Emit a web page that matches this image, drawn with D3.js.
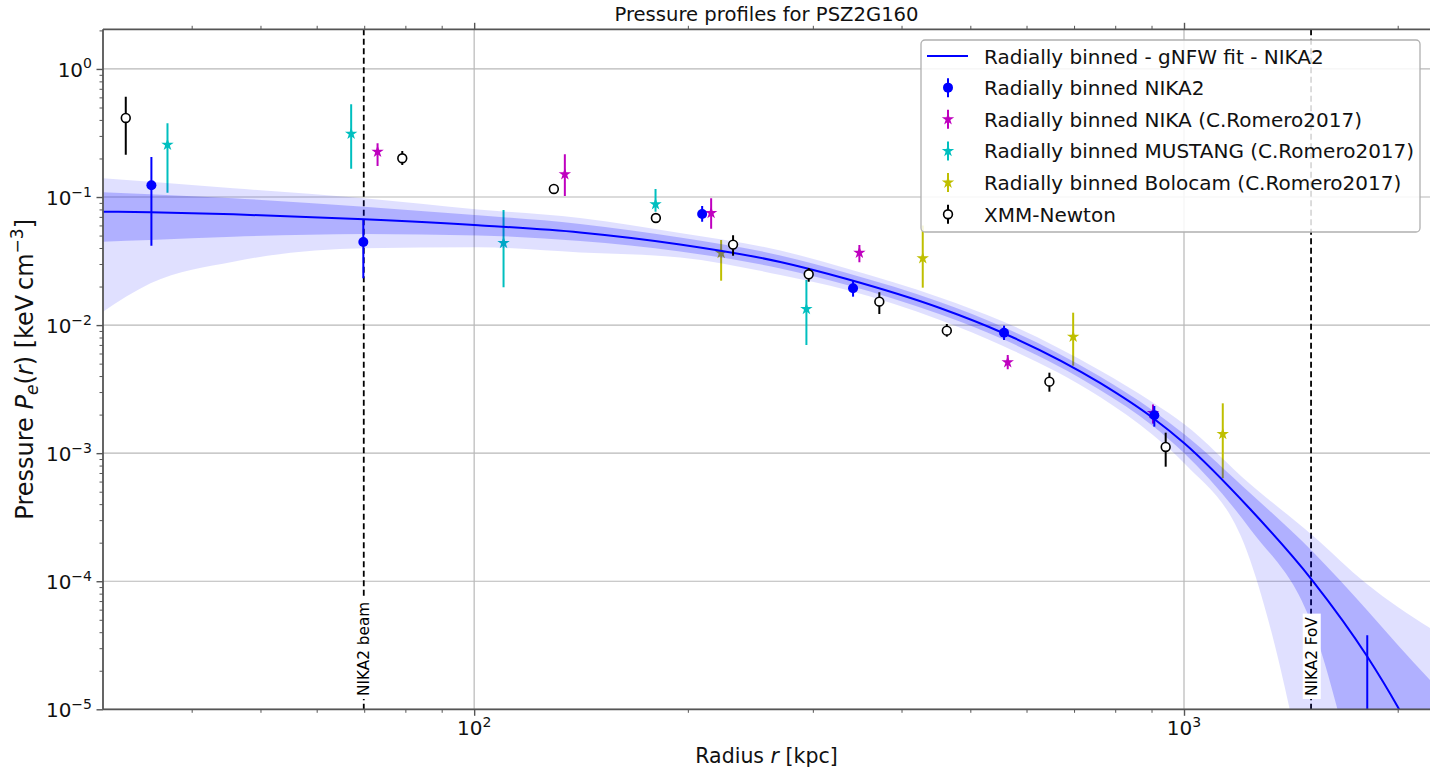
<!DOCTYPE html>
<html><head><meta charset="utf-8">
<script src="https://cdn.jsdelivr.net/npm/d3@7"></script>
<style>
body{margin:0;background:#fff;}
svg{display:block;font-family:"DejaVu Sans",sans-serif;}
</style></head><body>
<svg id="c" width="1430" height="769"></svg>
<script>
// ---------------- data ----------------
const title = "Pressure profiles for PSZ2G160";
const legendLabels = [
  "Radially binned - gNFW fit - NIKA2",
  "Radially binned NIKA2",
  "Radially binned NIKA (C.Romero2017)",
  "Radially binned MUSTANG (C.Romero2017)",
  "Radially binned Bolocam (C.Romero2017)",
  "XMM-Newton"
];
const xTickValues = [100, 1000];
const xTickExps = ["2", "3"];
const yTickValues = [1, 0.1, 0.01, 0.001, 0.0001, 0.00001];
const yTickExps = ["0", "\u22121", "\u22122", "\u22123", "\u22124", "\u22125"];

// gNFW fit and confidence bands
const fitR    = [30, 35, 45.8, 70, 101.3, 141, 195, 270, 335, 453, 556, 761.5, 904, 1000, 1239, 1515, 1810, 2001, 2221];
const fitP    = [0.0768, 0.0760, 0.0733, 0.0670, 0.0602, 0.0529, 0.04262, 0.03111, 0.02291, 0.01360, 0.00868, 0.003532, 0.001882, 0.001201, 3.665e-4, 1.022e-4, 2.608e-5, 1.042e-5, 3.48e-6];
const band1Hi = [0.1089, 0.1051, 0.0978, 0.0841, 0.0720, 0.0616, 0.0483, 0.0350, 0.02553, 0.01515, 0.00967, 0.003970, 0.002154, 0.001412, 4.887e-4, 1.722e-4, 5.963e-5, 3.177e-5, 1.693e-5];
const band1Lo = [0.0448, 0.0462, 0.0490, 0.0515, 0.0501, 0.0454, 0.03758, 0.02768, 0.02057, 0.01215, 0.00775, 0.003114, 0.001630, 0.001003, 2.558e-4, 4.553e-5, 1.23e-6, 1.3e-7, 1.3e-8];
const band2Hi = [0.1401, 0.1318, 0.1171, 0.0978, 0.0800, 0.0686, 0.0524, 0.03825, 0.02768, 0.01643, 0.01067, 0.004421, 0.002487, 0.001690, 5.743e-4, 2.297e-4, 9.515e-5, 6.293e-5, 4.313e-5];
const band2Lo = [0.01273, 0.0212, 0.03128, 0.0398, 0.0405, 0.03691, 0.03373, 0.02462, 0.01880, 0.01096, 0.00687, 0.002746, 0.001387, 8.38e-4, 1.465e-4, 1.27e-6, 1.5e-9, 1e-10, 1e-11];

// NIKA2 radially binned
const nika2R  = [35.1, 69.8, 209.5, 341.8, 557.8, 908.2, 1812];
const nika2P  = [0.1236, 0.0446, 0.0737, 0.01939, 0.00872, 0.001976, 5e-6];
const nika2Lo = [0.0417, 0.0232, 0.0642, 0.01667, 0.00765, 0.00161, 1e-7];
const nika2Hi = [0.2055, 0.0662, 0.0852, 0.0221, 0.0099, 0.002335, 3.78e-5];
// NIKA (Romero 2017)
const nikaR  = [73.1, 134.2, 215.7, 348.9, 564.5, 904.3];
const nikaP  = [0.226, 0.1506, 0.0751, 0.03677, 0.005125, 0.00206];
const nikaLo = [0.1748, 0.1019, 0.0566, 0.03094, 0.00452, 0.0017];
const nikaHi = [0.263, 0.2157, 0.0978, 0.0422, 0.00584, 0.0024];
// MUSTANG (Romero 2017)
const mustR  = [36.98, 67.1, 110.0, 180.1, 293.8];
const mustP  = [0.2563, 0.3125, 0.04379, 0.0878, 0.01336];
const mustLo = [0.1081, 0.1665, 0.01974, 0.0769, 0.00699];
const mustHi = [0.3767, 0.53, 0.0793, 0.1156, 0.0225];
// Bolocam (Romero 2017)
const boloR  = [222.8, 428.5, 698, 1134];
const boloP  = [0.03657, 0.03324, 0.00812, 0.001412];
const boloLo = [0.02222, 0.0196, 0.00482, 0.000637];
const boloHi = [0.0462, 0.06, 0.0125, 0.00245];
// XMM-Newton
const xmmR  = [32.3, 79.2, 129.5, 180.3, 231.6, 296.0, 372.2, 463.3, 646.2, 942.3];
const xmmP  = [0.4144, 0.2008, 0.1156, 0.0686, 0.0425, 0.02493, 0.01524, 0.00905, 0.003616, 0.001118];
const xmmLo = [0.2142, 0.178, 0.113, 0.066, 0.0348, 0.0218, 0.01221, 0.00812, 0.00302, 0.000784];
const xmmHi = [0.6076, 0.229, 0.118, 0.071, 0.0503, 0.0279, 0.01805, 0.0102, 0.00425, 0.001445];

// vertical markers
const beamR = 69.9, fovR = 1510;

// ---------------- layout ----------------
const L = 103, R = 1430, T = 29.3, B = 709.3;
const svg = d3.select("#c");
const x = d3.scaleLog().domain([30, 2221]).range([L, R]);
const y = d3.scaleLog().domain([1e-5, 2.04]).range([B, T]);

svg.append("defs").append("clipPath").attr("id", "clip")
  .append("rect").attr("x", L).attr("y", T).attr("width", R - L).attr("height", B - T);

// grid
const grid = svg.append("g").attr("stroke", "#b8b8b8").attr("stroke-width", 1.2);
xTickValues.forEach(v => grid.append("line").attr("x1", x(v)).attr("x2", x(v)).attr("y1", T).attr("y2", B));
yTickValues.forEach(v => grid.append("line").attr("x1", L).attr("x2", R).attr("y1", y(v)).attr("y2", y(v)));

const plot = svg.append("g").attr("clip-path", "url(#clip)");

// dashed vertical lines
[beamR, fovR].forEach(r => plot.append("line")
  .attr("x1", x(r)).attr("x2", x(r)).attr("y1", T).attr("y2", B)
  .attr("stroke", "#000").attr("stroke-width", 1.8).attr("stroke-dasharray", "6,3.5"));

const starSize = 48;
function errSeries(rs, ps, los, his, color, marker) {
  const g = plot.append("g");
  rs.forEach((r, i) => {
    g.append("line").attr("x1", x(r)).attr("x2", x(r))
      .attr("y1", y(los[i])).attr("y2", y(his[i]))
      .attr("stroke", color).attr("stroke-width", 2);
  });
  rs.forEach((r, i) => {
    if (marker === "star") {
      g.append("path").attr("d", d3.symbol(d3.symbolStar, starSize)())
        .attr("transform", `translate(${x(r)},${y(ps[i])})`).attr("fill", color);
    } else if (marker === "dot") {
      g.append("circle").attr("cx", x(r)).attr("cy", y(ps[i])).attr("r", 5).attr("fill", color);
    } else {
      g.append("circle").attr("cx", x(r)).attr("cy", y(ps[i])).attr("r", 4.4)
        .attr("fill", "#fff").attr("stroke", color).attr("stroke-width", 1.6);
    }
  });
}

const cM = "#bf00bf", cC = "#00bfbf", cY = "#bfbf00", cB = "#0000ff", cK = "#000";
errSeries(nikaR, nikaP, nikaLo, nikaHi, cM, "star");
errSeries(mustR, mustP, mustLo, mustHi, cC, "star");
errSeries(boloR, boloP, boloLo, boloHi, cY, "star");

// bands
const idx = d3.range(fitR.length);
const area = (lo, hi) => d3.area().curve(d3.curveMonotoneX)
  .x(i => x(fitR[i])).y0(i => y(lo[i])).y1(i => y(hi[i]))(idx);
plot.append("path").attr("d", area(band2Lo, band2Hi)).attr("fill", "rgba(0,0,255,0.12)");
plot.append("path").attr("d", area(band1Lo, band1Hi)).attr("fill", "rgba(0,0,255,0.21)");
plot.append("path").attr("d", d3.line().curve(d3.curveMonotoneX).x(i => x(fitR[i])).y(i => y(fitP[i]))(idx))
  .attr("fill", "none").attr("stroke", cB).attr("stroke-width", 2);

errSeries(nika2R, nika2P, nika2Lo, nika2Hi, cB, "dot");
errSeries(xmmR, xmmP, xmmLo, xmmHi, cK, "open");

// labels on dashed lines
function vlabel(r, txt) {
  const g = svg.append("g").attr("transform", `translate(${x(r) + 5.7},696) rotate(-90)`);
  const t = g.append("text").attr("font-size", 15.3).attr("fill", "#000").text(txt);
  const bb = t.node().getBBox();
  g.insert("rect", "text").attr("x", bb.x - 3).attr("y", bb.y).attr("width", bb.width + 6)
    .attr("height", bb.height).attr("fill", "#fff");
}
vlabel(beamR, "NIKA2 beam");
vlabel(fovR, "NIKA2 FoV");

// axes ticks (d3 axes)
const axColor = "#555";
const minorX = [40, 50, 60, 70, 80, 90, 200, 300, 400, 500, 600, 700, 800, 900, 2000];
const minorY = [];
for (let k = -5; k <= 0; k++) for (let m = 2; m <= 9; m++) { const v = m * Math.pow(10, k); if (v <= 2.04) minorY.push(v); }

function styleAxis(g, w) {
  g.select(".domain").remove();
  g.selectAll("line").attr("stroke-width", w);
}
svg.append("g").attr("transform", `translate(0,${B})`).attr("color", axColor)
  .call(d3.axisBottom(x).tickValues(minorX).tickSize(3.5).tickFormat("")).call(g => styleAxis(g, 1));
svg.append("g").attr("transform", `translate(0,${B})`).attr("color", axColor)
  .call(d3.axisBottom(x).tickValues(xTickValues).tickSize(6.5).tickFormat("")).call(g => styleAxis(g, 1.4));
svg.append("g").attr("transform", `translate(0,${T})`).attr("color", axColor)
  .call(d3.axisTop(x).tickValues(minorX).tickSize(3.5).tickFormat("")).call(g => styleAxis(g, 1));
svg.append("g").attr("transform", `translate(0,${T})`).attr("color", axColor)
  .call(d3.axisTop(x).tickValues(xTickValues).tickSize(6.5).tickFormat("")).call(g => styleAxis(g, 1.4));
svg.append("g").attr("transform", `translate(${L},0)`).attr("color", axColor)
  .call(d3.axisLeft(y).tickValues(minorY).tickSize(3.5).tickFormat("")).call(g => styleAxis(g, 1));
svg.append("g").attr("transform", `translate(${L},0)`).attr("color", axColor)
  .call(d3.axisLeft(y).tickValues(yTickValues).tickSize(6.5).tickFormat("")).call(g => styleAxis(g, 1.4));

// spines
const sp = svg.append("g").attr("stroke", axColor).attr("stroke-width", 1.8);
sp.append("line").attr("x1", L).attr("x2", L).attr("y1", T).attr("y2", B);
sp.append("line").attr("x1", L).attr("x2", R).attr("y1", B).attr("y2", B);
sp.append("line").attr("x1", L).attr("x2", R).attr("y1", T).attr("y2", T);

// tick labels
xTickValues.forEach((v, i) => {
  const t = svg.append("text").attr("x", x(v)).attr("y", 735).attr("text-anchor", "middle")
    .attr("font-size", 20).attr("fill", "#111").text("10");
  t.append("tspan").attr("dy", -8.5).attr("font-size", 14).text(xTickExps[i]);
});
yTickValues.forEach((v, i) => {
  const t = svg.append("text").attr("x", 92).attr("y", y(v) + 8).attr("text-anchor", "end")
    .attr("font-size", 20).attr("fill", "#111").text("10");
  t.append("tspan").attr("dy", -8.5).attr("font-size", 14).text(yTickExps[i]);
});

// axis labels and title
svg.append("text").attr("x", (L + R) / 2).attr("y", 21).attr("text-anchor", "middle")
  .attr("font-size", 19.6).attr("fill", "#111").text(title);

const xl = svg.append("text").attr("x", (L + R) / 2).attr("y", 763).attr("text-anchor", "middle")
  .attr("font-size", 20.5).attr("fill", "#111");
xl.append("tspan").text("Radius ");
xl.append("tspan").attr("font-style", "italic").text("r");
xl.append("tspan").text(" [kpc]");

const yl = svg.append("text").attr("transform", `translate(33,${(T + B) / 2}) rotate(-90)`)
  .attr("text-anchor", "middle").attr("font-size", 24).attr("fill", "#111");
yl.append("tspan").text("Pressure ");
yl.append("tspan").attr("font-style", "italic").text("P");
yl.append("tspan").attr("font-style", "italic").attr("font-size", 17).attr("dy", 5).text("e");
yl.append("tspan").attr("dy", -5).text("(");
yl.append("tspan").attr("font-style", "italic").text("r");
yl.append("tspan").text(") [keV\u2009cm");
yl.append("tspan").attr("font-size", 17).attr("dy", -10).text("\u22123");
yl.append("tspan").attr("dy", 10).text("]");

// legend
const lg = svg.append("g");
lg.append("rect").attr("x", 921).attr("y", 40).attr("width", 499).attr("height", 192).attr("rx", 4)
  .attr("fill", "rgba(255,255,255,0.85)").attr("stroke", "#b0b0b0").attr("stroke-width", 1.3);
const rowY = i => 56 + i * 31.65;
const legColors = [cB, cB, cM, cC, cY, cK];
const legMarkers = ["line", "dot", "star", "star", "star", "open"];
legendLabels.forEach((lab, i) => {
  const cy = rowY(i), mx = 948;
  if (legMarkers[i] === "line") {
    lg.append("line").attr("x1", 927).attr("x2", 968).attr("y1", cy).attr("y2", cy)
      .attr("stroke", cB).attr("stroke-width", 2);
  } else {
    lg.append("line").attr("x1", mx).attr("x2", mx).attr("y1", cy - 9.5).attr("y2", cy + 9.5)
      .attr("stroke", legColors[i]).attr("stroke-width", 2);
    if (legMarkers[i] === "dot") lg.append("circle").attr("cx", mx).attr("cy", cy).attr("r", 5).attr("fill", cB);
    else if (legMarkers[i] === "star") lg.append("path").attr("d", d3.symbol(d3.symbolStar, starSize)())
      .attr("transform", `translate(${mx},${cy})`).attr("fill", legColors[i]);
    else lg.append("circle").attr("cx", mx).attr("cy", cy).attr("r", 4.4).attr("fill", "#fff")
      .attr("stroke", cK).attr("stroke-width", 1.6);
  }
  lg.append("text").attr("x", 984).attr("y", cy + 7.5).attr("font-size", 20).attr("fill", "#111").text(lab);
});
</script>
</body></html>
